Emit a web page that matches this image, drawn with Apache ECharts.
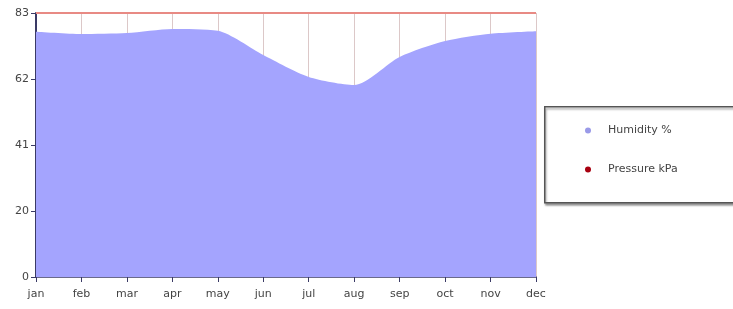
<!DOCTYPE html>
<html><head><meta charset="utf-8">
<script src="https://cdn.jsdelivr.net/npm/echarts@6/dist/echarts.min.js"></script>
<style>html,body{margin:0;padding:0;background:#fff}#c{width:733px;height:309px}</style>
</head><body><div id="c"></div>
<script>
var months = ['jan','feb','mar','apr','may','jun','jul','aug','sep','oct','nov','dec'];
var humidity = [77.1, 76.4, 76.7, 78.0, 77.4, 69.8, 62.9, 60.4, 69.2, 74.2, 76.5, 77.3];
var pressure = [83, 83, 83, 83, 83, 83, 83, 83, 83, 83, 83, 83];
var yTicks = [0, 20, 41, 62, 83];

var chart = echarts.init(document.getElementById('c'));
chart.setOption({
  animation: false,
  backgroundColor: '#fff',
  grid: {left: 36, right: 197, top: 13, bottom: 32},
  graphic: [{
    type: 'rect', left: 544, top: 106, silent: true, z: 0,
    shape: {width: 200, height: 96},
    style: {fill: '#fff', stroke: '#555', lineWidth: 1.5, shadowColor: 'rgba(0,0,0,0.35)', shadowOffsetX: 1, shadowOffsetY: 2, shadowBlur: 2}
  }],
  legend: {
    orient: 'vertical', left: 580, top: 118, z: 5,
    icon: 'circle', itemWidth: 6, itemHeight: 6, itemGap: 24,
    textStyle: {fontFamily: 'DejaVu Sans', fontSize: 11, color: '#444', lineHeight: 15, padding: [0, 0, 0, 12]},
    data: [
      {name: 'Humidity %', itemStyle: {color: '#9a9ae8'}},
      {name: 'Pressure kPa', itemStyle: {color: '#a80010'}}
    ]
  },
  xAxis: {
    type: 'category', data: months, boundaryGap: false,
    axisLine: {lineStyle: {color: '#3a3a66', width: 1.5}},
    axisTick: {show: true, length: 5, alignWithLabel: true, lineStyle: {color: '#3a3a66'}},
    axisLabel: {fontFamily: 'DejaVu Sans', fontSize: 11, color: '#444', margin: 12, interval: 0},
    splitLine: {show: true, lineStyle: {color: '#dcc8c8', width: 1}}
  },
  yAxis: {
    type: 'value', min: 0, max: 83, interval: 20.75,
    axisLine: {show: true, lineStyle: {color: '#3a3a66', width: 2}},
    axisTick: {show: true, length: 5, lineStyle: {color: '#3a3a66'}},
    axisLabel: {fontFamily: 'DejaVu Sans', fontSize: 11, color: '#444', margin: 7,
      formatter: function (v) { return Math.floor(v + 0.01); }},
    splitLine: {show: false}
  },
  series: [
    {
      name: 'Humidity %', type: 'line', data: humidity, smooth: 0.25,
      symbol: 'none', lineStyle: {width: 0, color: '#a4a4fe'},
      itemStyle: {color: '#a4a4fe'},
      areaStyle: {color: '#a4a4fe', opacity: 1}, z: 2
    },
    {
      name: 'Pressure kPa', type: 'line', data: pressure, clip: false,
      symbol: 'none', lineStyle: {width: 2, color: '#e88a84'},
      itemStyle: {color: '#e88a84'}, z: 3
    }
  ]
});
</script>
</body></html>
